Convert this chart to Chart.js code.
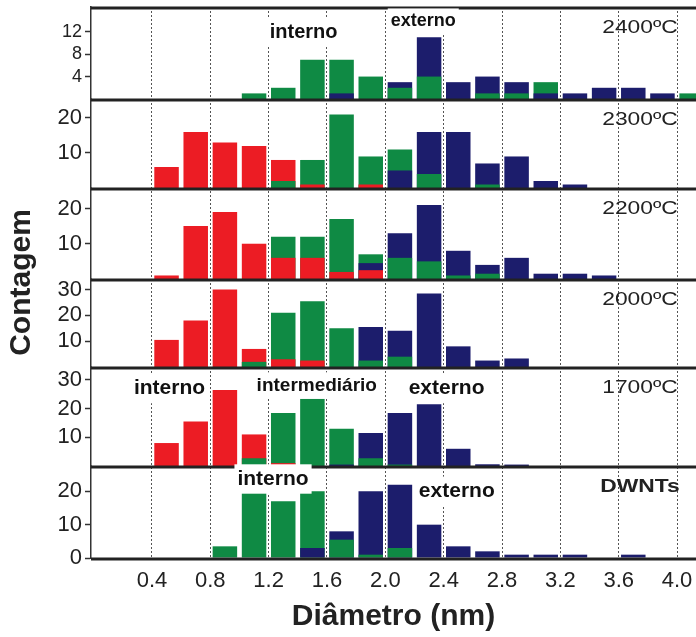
<!DOCTYPE html>
<html>
<head>
<meta charset="utf-8">
<script src="https://cdn.jsdelivr.net/npm/chart.js@4"></script>
<style>
  html, body { margin: 0; padding: 0; background: #fff; }
  #wrap { position: relative; width: 696px; height: 637px; }
</style>
</head>
<body>
<div id="wrap"><canvas id="myChart"></canvas></div>
<script>
// centros das classes de diâmetro (nm), largura 0.2
var binCenters = [0.5, 0.7, 0.9, 1.1, 1.3, 1.5, 1.7, 1.9, 2.1, 2.3, 2.5, 2.7, 2.9, 3.1, 3.3, 3.5, 3.7, 3.9, 4.1];
var xTicks = [0.4, 0.8, 1.2, 1.6, 2.0, 2.4, 2.8, 3.2, 3.6, 4.0];

var panelNames = ['2400ºC', '2300ºC', '2200ºC', '2000ºC', '1700ºC', 'DWNTs'];

// contagens: vermelho = interno, verde = intermediário, azul = externo
var red2400   = [0, 0, 0, 0, 0, 0, 0, 0, 0, 0, 0, 0, 0, 0, 0, 0, 0, 0, 0];
var green2400 = [0, 0, 0, 1, 2, 7, 7, 4, 2, 4, 0, 1, 1, 3, 0, 0, 0, 0, 1];
var blue2400  = [0, 0, 0, 0, 0, 0, 1, 0, 3, 11, 3, 4, 3, 1, 1, 2, 2, 1, 0];

var red2300   = [6, 16, 13, 12, 8, 1, 0, 1, 0, 0, 0, 0, 0, 0, 0, 0, 0, 0, 0];
var green2300 = [0, 0, 0, 0, 2, 8, 21, 9, 11, 4, 0, 1, 0, 0, 0, 0, 0, 0, 0];
var blue2300  = [0, 0, 0, 0, 0, 0, 0, 0, 5, 16, 16, 7, 9, 2, 1, 0, 0, 0, 0];

var red2200   = [1, 15, 19, 10, 6, 6, 2, 2.5, 0, 0, 0, 0, 0, 0, 0, 0, 0, 0, 0];
var green2200 = [0, 0, 0, 0, 12, 12, 17, 7, 6, 5, 1, 1.5, 0, 0, 0, 0, 0, 0, 0];
var blue2200  = [0, 0, 0, 0, 0, 0, 0, 4.5, 13, 21, 8, 4, 6, 1.5, 1.5, 1, 0, 0, 0];

var red2000   = [10.5, 18, 30, 7, 3, 2.5, 0, 0, 0, 0, 0, 0, 0, 0, 0, 0, 0, 0, 0];
var green2000 = [0, 0, 0, 2, 21, 25.5, 15, 2.5, 4, 0, 0, 0, 0, 0, 0, 0, 0, 0, 0];
var blue2000  = [0, 0, 0, 0, 0, 0, 0, 15.5, 14, 28.5, 8, 2.5, 3.3, 0, 0, 0, 0, 0, 0];

var red1700   = [8, 15.5, 26.5, 11, 1, 0, 0, 0, 0, 0, 0, 0, 0, 0, 0, 0, 0, 0, 0];
var green1700 = [0, 0, 0, 2.7, 18.5, 24, 13, 2.7, 0.5, 0, 0, 0, 0, 0, 0, 0, 0, 0, 0];
var blue1700  = [0, 0, 0, 0, 0, 0, 0.5, 11.5, 18.5, 21.5, 6, 0.6, 0.5, 0, 0, 0, 0, 0, 0];

var redDWNT   = [0, 0, 0, 0, 0, 0, 0, 0, 0, 0, 0, 0, 0, 0, 0, 0, 0, 0, 0];
var greenDWNT = [0, 0, 3.5, 20, 17, 20, 5.5, 1, 3, 0, 0, 0, 0, 0, 0, 0, 0, 0, 0];
var blueDWNT  = [0, 0, 0, 0, 0, 3, 8, 20, 22, 10, 3.5, 2, 1, 1, 1, 0, 1, 0, 0];

var ticks2400 = [4, 8, 12];
var ticks2300 = [10, 20];
var ticks2200 = [10, 20];
var ticks2000 = [10, 20, 30];
var ticks1700 = [10, 20, 30];
var ticksDWNT = [0, 10, 20];

var panelSeries = [
  [red2400, green2400, blue2400],
  [red2300, green2300, blue2300],
  [red2200, green2200, blue2200],
  [red2000, green2000, blue2000],
  [red1700, green1700, blue1700],
  [redDWNT, greenDWNT, blueDWNT]
];
var panelTicks = [ticks2400, ticks2300, ticks2200, ticks2000, ticks1700, ticksDWNT];
var panelMax = [16.4, 25.4, 25.8, 34.1, 34.5, 27.6];
var panelHeights = [92, 89, 91, 88, 99, 92];

var colors = ['#ec1c24', '#0f8a44', '#1c1d6c'];
var FONT = "'Liberation Sans', Arial, sans-serif";

// barras sobrepostas: a maior atrás, a menor na frente
var datasets = [];
panelSeries.forEach(function (series, p) {
  for (var rank = 2; rank >= 0; rank--) {
    var data = [], bg = [];
    binCenters.forEach(function (x, i) {
      var vals = series.map(function (s, c) { return { v: s[i], c: c }; })
        .sort(function (a, b) { return b.v - a.v; });
      var item = vals[rank];
      data.push({ x: x, y: item.v > 0 ? item.v : null });
      bg.push(colors[item.c]);
    });
    datasets.push({
      data: data,
      backgroundColor: bg,
      borderWidth: 0,
      yAxisID: 'y' + p,
      barPercentage: 0.84,
      categoryPercentage: 1
    });
  }
});

var scales = {
  x: {
    type: 'linear',
    min: -0.018,
    max: 4.13,
    stacked: true,
    offset: false,
    afterBuildTicks: function (s) { s.ticks = xTicks.map(function (v) { return { value: v }; }); },
    afterFit: function (s) { s.height = 79; s.paddingLeft = 0; s.paddingRight = 0; },
    grid: { color: '#555', lineWidth: 1, drawTicks: false, offset: false },
    border: { display: false, dash: [2, 2] },
    ticks: {
      padding: 10, color: '#222', maxRotation: 0, autoSkip: false,
      font: { family: FONT, size: 22 },
      callback: function (v) { return v.toFixed(1); }
    },
    title: {
      display: true, text: 'Diâmetro (nm)', color: '#222',
      font: { family: FONT, size: 30, weight: 'bold' },
      padding: { top: 0, bottom: 2 }
    }
  }
};

panelNames.forEach(function (name, p) {
  scales['y' + p] = {
    type: 'linear',
    position: 'left',
    stack: 'panels',
    stackWeight: panelHeights[p],
    weight: 6 - p,
    stacked: false,
    min: 0,
    max: panelMax[p],
    afterBuildTicks: function (s) { s.ticks = panelTicks[p].map(function (v) { return { value: v }; }); },
    afterFit: function (s) { s.width = 91; s.paddingTop = 0; s.paddingBottom = 0; },
    grid: { drawOnChartArea: false, drawTicks: true, tickLength: 6, tickColor: '#333', tickWidth: 1.5 },
    border: { display: true, color: '#333', width: 1.5 },
    ticks: { padding: 3, color: '#222', autoSkip: false, font: { family: FONT, size: p === 0 ? 18 : 22 } }
  };
});

// rótulos dentro dos painéis (x em nm, y em contagem do painel)
var regionLabels = [
  { panel: 0, text: 'interno', x: 1.44, y: 11.9, size: 20 },
  { panel: 0, text: 'externo', x: 2.26, y: 13.9, size: 18 },
  { panel: 4, text: 'interno', x: 0.52, y: 27, size: 21 },
  { panel: 4, text: 'intermediário', x: 1.53, y: 28, size: 19 },
  { panel: 4, text: 'externo', x: 2.42, y: 27, size: 21 },
  { panel: 5, text: 'interno', x: 1.23, y: 23.7, size: 21 },
  { panel: 5, text: 'externo', x: 2.49, y: 20, size: 21 }
];

var panelDecor = {
  id: 'panelDecor',
  afterDatasetsDraw: function (chart) {
    var ctx = chart.ctx, a = chart.chartArea;
    ctx.save();
    ctx.strokeStyle = '#222';
    ctx.lineWidth = 3;
    ctx.beginPath();
    ctx.moveTo(a.left, a.top + 1);
    ctx.lineTo(a.right, a.top + 1);
    panelNames.forEach(function (n, p) {
      var y = chart.scales['y' + p].getPixelForValue(0) + 1;
      ctx.moveTo(a.left, y);
      ctx.lineTo(a.right, y);
    });
    ctx.stroke();

    ctx.textAlign = 'center';
    ctx.textBaseline = 'middle';
    ctx.fillStyle = '#222';
    // o texto original parece esticado na horizontal
    panelNames.forEach(function (n, p) {
      var s = chart.scales['y' + p];
      ctx.save();
      ctx.translate(a.right - 56, s.top + 21);
      ctx.scale(1.2, 1);
      ctx.font = (p === 5 ? 'bold 19px ' : '19px ') + FONT;
      ctx.fillText(n, 0, 0);
      ctx.restore();
    });

    regionLabels.forEach(function (l) {
      var s = chart.scales['y' + l.panel];
      var x = chart.scales.x.getPixelForValue(l.x);
      var y = s.getPixelForValue(l.y);
      ctx.font = 'bold ' + l.size + 'px ' + FONT;
      var w = ctx.measureText(l.text).width;
      ctx.fillStyle = '#fff';
      ctx.fillRect(x - w / 2 - 3, y - l.size * 0.7, w + 6, l.size * 1.4);
      ctx.fillStyle = '#111';
      ctx.fillText(l.text, x, y);
    });

    ctx.translate(22, (a.top + a.bottom) / 2);
    ctx.rotate(-Math.PI / 2);
    ctx.font = 'bold 30px ' + FONT;
    ctx.fillStyle = '#222';
    ctx.fillText('Contagem', 0, 0);
    ctx.restore();
  }
};

var ctx = document.getElementById('myChart').getContext('2d');
var chart = new Chart(ctx, {
  type: 'bar',
  data: { datasets: datasets },
  options: {
    responsive: true,
    maintainAspectRatio: false,
    animation: false,
    layout: { padding: { top: 7, left: 0, right: 0, bottom: 0 } },
    plugins: { legend: { display: false }, tooltip: { enabled: false } },
    scales: scales
  },
  plugins: [panelDecor]
});
</script>
</body>
</html>
